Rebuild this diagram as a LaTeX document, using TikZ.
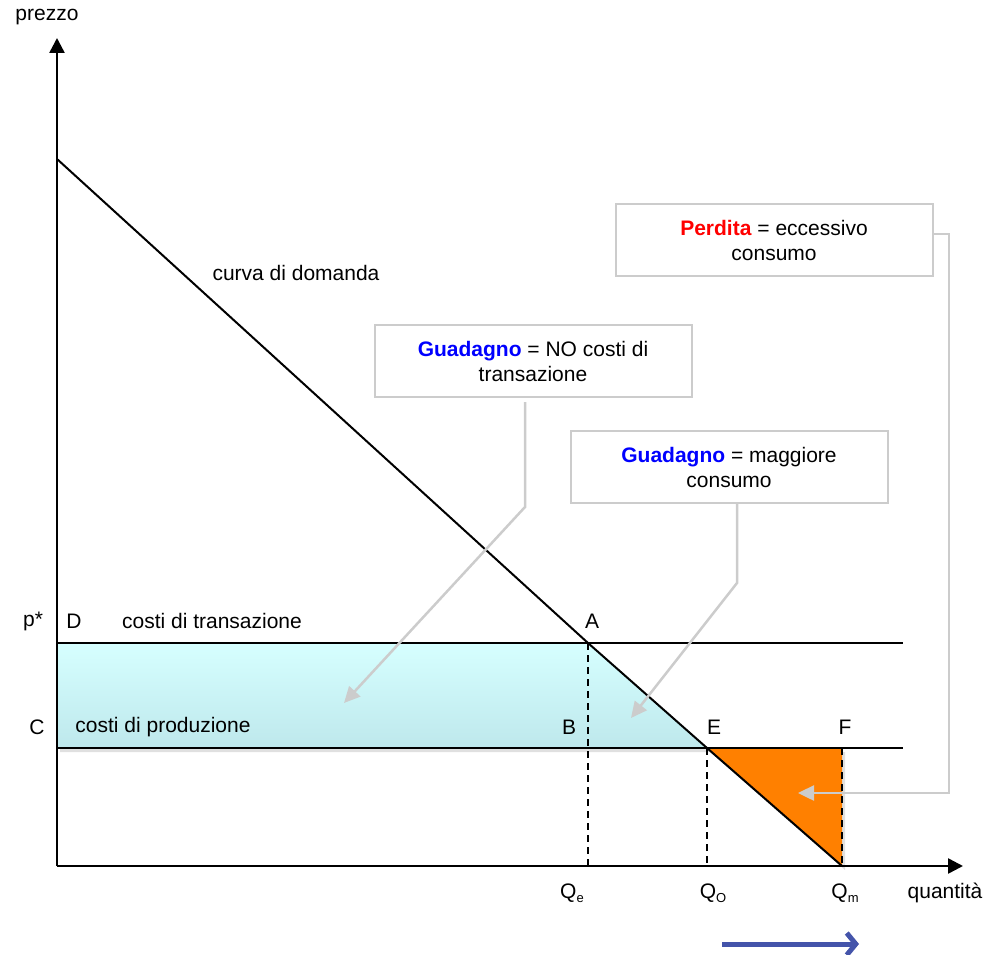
\documentclass[tikz,border=0pt]{standalone}
\usepackage{fontspec}
\setmainfont{Liberation Sans}
\usepackage{xcolor}
\usetikzlibrary{calc,arrows.meta}

\definecolor{areacyan}{RGB}{214,255,255}
\definecolor{areacyandark}{RGB}{190,232,236}
\definecolor{lossorange}{RGB}{255,128,0}
\definecolor{boxgray}{RGB}{204,204,204}
\definecolor{shiftblue}{RGB}{68,84,170}

\newcommand{\qsub}[1]{Q\raisebox{-0.35ex}{\fontsize{13}{13}\selectfont #1}}

\begin{document}
\begin{tikzpicture}[x=1pt,y=-1pt,
    every node/.style={font=\fontsize{21}{25}\selectfont,inner sep=0pt},
    axis/.style={line width=2.5pt,-{Triangle[length=15pt,width=15pt]}},
    level/.style={line width=2pt},
    guide/.style={line width=2pt,dash pattern=on 7pt off 5pt},
    note/.style={draw=boxgray,line width=2pt,fill=white,align=center,
        minimum width=317pt,minimum height=72pt},
    pointer/.style={draw=boxgray,line width=2.5pt,
        -{Triangle[length=16pt,width=15pt]}}]
    \useasboundingbox (0,0) rectangle (998,955);

    % Key points
    \coordinate (O) at (57,866);
    \coordinate (top) at (57,159);
    \coordinate (D) at (57,643);
    \coordinate (C) at (57,748);
    \coordinate (A) at (588,643);
    \coordinate (B) at (588,748);
    \coordinate (E) at (707,748);
    \coordinate (F) at (842,748);
    \coordinate (Qm) at (842,866);

    % Areas
    \fill[black,opacity=0.12] ($(D)+(3,4)$) -- ($(A)+(3,4)$) -- ($(E)+(3,4)$) -- ($(C)+(3,4)$) -- cycle;
    \shade[top color=areacyan,bottom color=areacyandark] (D) -- (A) -- (E) -- (C) -- cycle;
    \fill[black,opacity=0.12] ($(E)+(3,4)$) -- ($(F)+(3,4)$) -- ($(Qm)+(3,4)$) -- cycle;
    \fill[lossorange] (E) -- (F) -- (Qm) -- cycle;

    % Cost levels and demand
    \draw[level] (D) -- (903,643);
    \draw[level] (C) -- (903,748);
    \draw[level] (top) -- (A) -- (E) -- (Qm);

    % Guides
    \draw[guide] (A) -- (588,866);
    \draw[guide] (E) -- (707,866);
    \draw[guide] (F) -- (Qm);

    % Axes
    \draw[axis] (O) -- (57,38);
    \draw[axis] (O) -- (963,866);
    \node (prezzo) at (47,17) {prezzo};
    \node (quantita) at (945,893) {quantità};

    % Labels
    \node (pstar) at (33,621) {p*};
    \node (lD) at (74,621) {D};
    \node (transaz) at (212,621) {costi di transazione};
    \node (lC) at (37,727) {C};
    \node (produz) at (163,727) {costi di produzione};
    \node (lA) at (592,621) {A};
    \node (lB) at (569,727) {B};
    \node (lE) at (714,727) {E};
    \node (lF) at (845,727) {F};
    \node (Qe) at (572,893) {\qsub{e}};
    \node (QO) at (713,893) {\qsub{O}};
    \node (Qmlab) at (845,893) {\qsub{m}};
    \node (domanda) at (296,273) {curva di domanda};

    % Notes
    \node[note] (gainT) at (533,361) {\textcolor{blue}{\textbf{Guadagno}} = NO costi di\\transazione};
    \node[note] (gainC) at (729,467) {\textcolor{blue}{\textbf{Guadagno}} = maggiore\\consumo};
    \node[note] (loss) at (774,240) {\textcolor{red}{\textbf{Perdita}} = eccessivo\\consumo};

    \coordinate (gainTtip) at (344,703);
    \coordinate (gainCtip) at (631,718);
    \coordinate (losstip) at (798,793);
    \draw[pointer] ($(gainT.south)+(-8,4)$) -- (525,507) -- (gainTtip);
    \draw[pointer] ($(gainC.south)+(8,0)$) -- (737,583) -- (gainCtip);
    \draw[pointer] ($(loss.east)+(0,-6)$) -- (949,234) -- (949,793) -- (losstip);

    % Shift arrow
    \coordinate (shiftL) at (722,944);
    \coordinate (shiftR) at (859,944);
    \draw[shiftblue,line width=5pt,-{Straight Barb[length=9pt,width=22pt]}] (shiftL) -- (shiftR);
\end{tikzpicture}
\end{document}
